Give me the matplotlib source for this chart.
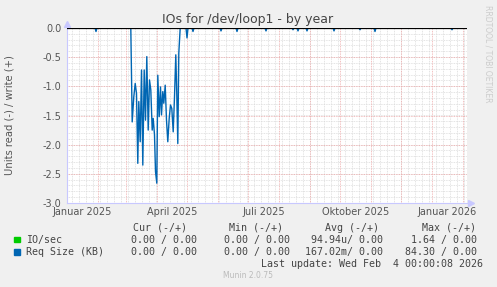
import matplotlib
matplotlib.use("Agg")
import matplotlib.pyplot as plt
import numpy as np

# values (day 0 = 1 Jan 2025, 400 days shown)
block_days = [63.8, 65.2, 66.8, 68.2, 69.5, 70.8, 71.8, 73.2, 74.5, 75.8,
              77.2, 78.5, 79.8, 81.2, 82.5, 83.8, 85.2, 86.2, 87.5, 88.5,
              89.8, 90.8, 92.2, 93.5, 94.5, 95.8, 96.8, 98.2, 99.5, 100.8,
              102.2, 103.5, 104.8, 106.2, 107.5, 108.8, 109.8, 110.8, 111.8, 113.2]
block_vals = [0.0, -1.61, -1.18, -0.95, -1.12, -2.32, -1.26, -1.95, -0.72, -2.35,
              -0.72, -1.58, -0.49, -1.75, -0.89, -1.06, -1.75, -1.55, -1.83, -2.46,
              -2.66, -0.81, -1.52, -1.01, -1.49, -1.09, -1.29, -0.98, -1.58, -1.95,
              -1.55, -1.32, -1.38, -1.78, -1.18, -0.46, -1.15, -1.98, -0.43, 0.0]
blip_days = [29, 120, 126, 154, 170, 199, 226, 231, 240, 267, 293, 308, 385]
blip_vals = [-0.06, -0.17, -0.06, -0.05, -0.06, -0.05, -0.03, -0.05, -0.05,
             -0.05, -0.03, -0.06, -0.03]

n_days = 400
start = np.datetime64("2025-01-01")
label_months = ["2025-01", "2025-04", "2025-07", "2025-10", "2026-01"]
label_texts = ["Januar 2025", "April 2025", "Juli 2025", "Oktober 2025", "Januar 2026"]

legend_header = ["Cur (-/+)", "Min (-/+)", "Avg (-/+)", "Max (-/+)"]
legend_names = ["IO/sec", "Req Size (KB)"]
legend_colors = ["#00CC00", "#0066B3"]
legend_rows = [["0.00 / 0.00", "0.00 / 0.00", "94.94u/ 0.00", "1.64 / 0.00"],
               ["0.00 / 0.00", "0.00 / 0.00", "167.02m/ 0.00", "84.30 / 0.00"]]
last_update = "Last update: Wed Feb  4 00:00:08 2026"

# daily series, with the dense block spliced in
days = np.arange(n_days, dtype=float)
vals = np.zeros(n_days)
vals[blip_days] = blip_vals
keep = (days < block_days[0]) | (days > block_days[-1])
x = np.concatenate([days[keep], block_days])
y = np.concatenate([vals[keep], block_vals])
order = np.argsort(x)
x, y = x[order], y[order]

W, H = 497, 287
fig = plt.figure(figsize=(W / 100, H / 100), dpi=100, facecolor="#F0F0F0")
ax = fig.add_axes([67 / W, 1 - 203 / H, 400 / W, 175 / H])
ax.set_facecolor("white")
ax.set_xlim(0, n_days)
ax.set_ylim(-3, 0)

# grid
months = np.arange("2025-01", "2026-03", dtype="datetime64[M]")
month_days = (months.astype("datetime64[D]") - start).astype(int)
mondays = np.arange(5, n_days, 7)
for d in mondays:
    ax.axvline(d, color="#dadada", lw=0.6, ls=(0, (1, 1)), zorder=1)
for v in np.arange(-2.9, 0, 0.1):
    ax.axhline(v, color="#dadada", lw=0.6, ls=(0, (1, 1)), zorder=1)
for d in month_days:
    ax.axvline(d, color="#eeaaaa", lw=0.6, ls=(0, (1, 1)), zorder=2)
for v in np.arange(-2.5, 0, 0.5):
    ax.axhline(v, color="#eeaaaa", lw=0.6, ls=(0, (1, 1)), zorder=2)

ax.plot(x, y, color="#0066B3", lw=1.0, zorder=3)
ax.axhline(0, color="black", lw=0.9, zorder=4)

for s in ["top", "right"]:
    ax.spines[s].set_visible(False)
for s in ["left", "bottom"]:
    ax.spines[s].set_color("#c8c8ff")
    ax.spines[s].set_linewidth(0.8)
ax.plot([0], [0.07], marker="^", color="#c8c8ff", ms=4, clip_on=False)
ax.plot([n_days + 4], [-3], marker=">", color="#c8c8ff", ms=4, clip_on=False)

ax.set_yticks(np.arange(-3, 0.01, 0.5))
ax.set_yticklabels([f"{v:.1f}" for v in np.arange(-3, 0.01, 0.5)])
lab_pos = []
for m in label_months:
    m0 = np.datetime64(m, "M")
    d0 = (m0.astype("datetime64[D]") - start).astype(int)
    d1 = ((m0 + 1).astype("datetime64[D]") - start).astype(int)
    lab_pos.append((d0 + d1) / 2)
ax.set_xticks(lab_pos)
ax.set_xticklabels(label_texts)
ax.tick_params(axis="both", length=0, labelsize=7, labelcolor="#555555")
ax.tick_params(axis="x", pad=3)
ax.tick_params(axis="y", pad=4)
ax.set_ylabel("Units read (-) / write (+)", fontsize=7.2, color="#555555")
ax.yaxis.set_label_coords((15 - 67) / 400, 0.5)

fig.text(248 / W, 1 - 19 / H, "IOs for /dev/loop1 - by year", ha="center", va="center",
         fontsize=9, color="#444444")
fig.text(488 / W, 1 - 5 / H, "RRDTOOL / TOBI OETIKER", rotation=270, ha="center", va="top",
         fontsize=5.5, color="#cccccc")

# legend block
mono = dict(family="DejaVu Sans Mono", fontsize=7.2, color="#444444", va="center")
col_right = [197, 290, 383, 477]
head_right = [187, 283, 379, 476]
for r, t in zip(head_right, legend_header):
    fig.text(r / W, 1 - 228 / H, t, ha="right", **mono)
for i, (name, col, row) in enumerate(zip(legend_names, legend_colors, legend_rows)):
    yy = 239.5 + i * 12.2
    fig.patches.append(plt.Rectangle((14 / W, 1 - (yy + 2.8) / H), 5.5 / W, 5.5 / H,
                                     transform=fig.transFigure, color=col))
    fig.text(26.5 / W, 1 - yy / H, name, ha="left", **mono)
    for r, t in zip(col_right, row):
        fig.text(r / W, 1 - yy / H, t, ha="right", **mono)
fig.text(483 / W, 1 - 263.7 / H, last_update, ha="right", **mono)
fig.text(248 / W, 1 - 276 / H, "Munin 2.0.75", ha="center", va="center",
         fontsize=5.5, color="#bbbbbb")

fig.savefig("out.png", dpi=100, facecolor=fig.get_facecolor())
